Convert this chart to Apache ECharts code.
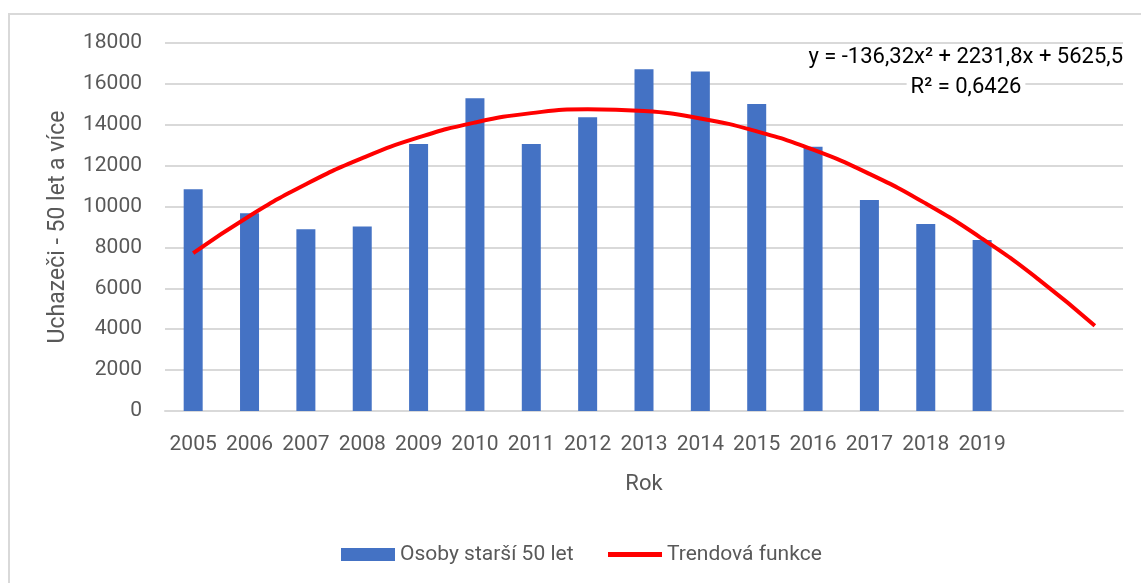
<!DOCTYPE html>
<html>
<head>
<meta charset="utf-8">
<script src="https://cdn.jsdelivr.net/npm/echarts@6/dist/echarts.min.js"></script>
<style>
  html, body { margin: 0; padding: 0; background: #fff; }
  #main { width: 1141px; height: 583px; }
</style>
</head>
<body>
<div id="main"></div>
<script>
// roky na ose x (poslední dvě pozice jen pro trend)
const years = ['2005', '2006', '2007', '2008', '2009', '2010', '2011', '2012',
  '2013', '2014', '2015', '2016', '2017', '2018', '2019', '', ''];
// uchazeči 50+
const osoby = [10850, 9670, 8890, 9020, 13060, 15300, 13060, 14370,
  16720, 16600, 15020, 12930, 10320, 9150, 8370];
// trendová křivka
const trend = [7720, 9540, 11090, 12370, 13380, 14110, 14570, 14760,
  14670, 14310, 13680, 12780, 11600, 10150, 8430, 6440, 4170];
const yTicks = [0, 2000, 4000, 6000, 8000, 10000, 12000, 14000, 16000, 18000];

const chart = echarts.init(document.getElementById('main'));
const font = 'Roboto';
const gray = '#595959';

const option = {
  animation: false,
  textStyle: { fontFamily: font },
  grid: { left: 165, right: 18, top: 43, bottom: 172 },
  graphic: [
    {
      type: 'rect',
      shape: { x: 9, y: 14, width: 1300, height: 700 },
      style: { fill: 'none', stroke: '#d9d9d9', lineWidth: 2 },
      silent: true
    },
    {
      type: 'text',
      x: 1123, y: 57, z: 10,
      style: {
        text: 'y = -136,32x² + 2231,8x + 5625,5',
        fill: '#000', font: '22px Roboto', align: 'right', verticalAlign: 'middle'
      }
    },
    {
      type: 'text',
      x: 966, y: 87, z: 10,
      style: {
        text: 'R² = 0,6426',
        fill: '#000', font: '22px Roboto', align: 'center', verticalAlign: 'middle',
        backgroundColor: '#fff', padding: [0, 4]
      }
    }
  ],
  legend: {
    top: 539,
    left: 336,
    itemGap: 32,
    itemWidth: 54,
    itemHeight: 13,
    textStyle: { color: gray, fontSize: 21, fontFamily: font },
    data: [
      { name: 'Osoby starší 50 let', icon: 'rect' },
      { name: 'Trendová funkce', itemStyle: { opacity: 0 }, lineStyle: { width: 5 } }
    ]
  },
  xAxis: {
    type: 'category',
    data: years,
    name: 'Rok',
    nameLocation: 'middle',
    nameGap: 62,
    nameTextStyle: { color: gray, fontSize: 22 },
    axisLine: { lineStyle: { color: '#d9d9d9', width: 2 } },
    axisTick: { show: false },
    axisLabel: { color: gray, fontSize: 21, margin: 23, interval: 0 }
  },
  yAxis: {
    type: 'value',
    min: yTicks[0],
    max: yTicks[yTicks.length - 1],
    interval: 2000,
    name: 'Uchazeči - 50 let a více',
    nameLocation: 'middle',
    nameGap: 95,
    nameTextStyle: { color: gray, fontSize: 23 },
    axisLine: { show: false },
    axisTick: { show: false },
    axisLabel: { color: gray, fontSize: 21, margin: 23, formatter: v => String(v) },
    splitLine: { lineStyle: { color: '#d9d9d9', width: 2 } }
  },
  series: [
    {
      name: 'Osoby starší 50 let',
      type: 'bar',
      data: osoby,
      barWidth: 19,
      itemStyle: { color: '#4472c4' }
    },
    {
      name: 'Trendová funkce',
      type: 'line',
      data: trend,
      smooth: true,
      symbol: 'none',
      lineStyle: { color: '#ff0000', width: 4 },
      itemStyle: { color: '#ff0000' }
    }
  ]
};

chart.setOption(option);
</script>
</body>
</html>
